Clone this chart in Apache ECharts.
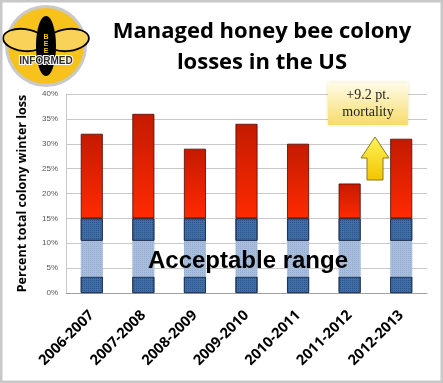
<!DOCTYPE html>
<html><head><meta charset="utf-8">
<script src="https://cdn.jsdelivr.net/npm/echarts@6/dist/echarts.min.js"></script>
<style>html,body{margin:0;padding:0;background:#fff}#c{width:443px;height:383px}</style>
</head><body><div id="c"></div>
<script>
const categories = ['2006-2007','2007-2008','2008-2009','2009-2010','2010-2011','2011-2012','2012-2013'];
const totalLoss = [32, 36, 29, 34, 30, 22, 31];
const acceptableTop = 15;
const bandLow = 3.3;
const bandHigh = 10.5;
const yTicks = [0, 5, 10, 15, 20, 25, 30, 35, 40];

const darkBlue = {
  color: '#3f6ea8', borderColor: '#1d3050', borderWidth: 0.8,
  decal: {symbol: 'rect', symbolSize: 1, dashArrayX: [1, 1], dashArrayY: [1, 1], color: 'rgba(20,40,80,0.4)'}
};
const lightBlue = {
  color: '#a8bedc', borderWidth: 0,
  decal: {symbol: 'rect', symbolSize: 1, dashArrayX: [1, 1], dashArrayY: [1, 1], color: 'rgba(110,140,190,0.35)'}
};

const chart = echarts.init(document.getElementById('c'));
chart.setOption({
  animation: false,
  grid: {left: 66, right: 16, top: 94, bottom: 90},
  xAxis: {
    type: 'category', data: categories,
    axisLine: {lineStyle: {color: '#a0a0a0'}},
    axisTick: {lineStyle: {color: '#a0a0a0'}, length: 5},
    axisLabel: {rotate: 45, color: '#000', fontFamily: 'Open Sans', fontWeight: 'bold', fontSize: 14.5, margin: 20}
  },
  yAxis: {
    type: 'value', min: yTicks[0], max: yTicks[yTicks.length - 1], interval: 5,
    axisLabel: {formatter: '{value}%', color: '#555', fontSize: 8, fontFamily: 'Liberation Sans'},
    splitLine: {lineStyle: {color: '#c8c8c8', width: 1}},
    axisLine: {show: true, lineStyle: {color: '#c8c8c8'}},
    name: 'Percent total colony winter loss', nameLocation: 'middle', nameGap: 37,
    nameTextStyle: {color: '#000', fontFamily: 'Open Sans', fontWeight: 'bold', fontSize: 12.5}
  },
  series: [
    {type: 'bar', stack: 'a', barWidth: 22, data: categories.map(() => bandLow), itemStyle: darkBlue},
    {type: 'bar', stack: 'a', data: categories.map(() => bandHigh - bandLow), itemStyle: lightBlue},
    {type: 'bar', stack: 'a', data: categories.map(() => acceptableTop - bandHigh), itemStyle: darkBlue},
    {type: 'bar', stack: 'a', data: totalLoss.map(v => v - acceptableTop),
      itemStyle: {borderColor: '#4a0a00', borderWidth: 0.8,
        color: new echarts.graphic.LinearGradient(0, 0, 0, 1, [{offset: 0, color: '#c41a00'}, {offset: 1, color: '#ff2a00'}])}}
  ],
  graphic: [
    {type: 'rect', shape: {x: 1, y: 1, width: 441, height: 381}, style: {fill: 'none', stroke: '#c8c8c8', lineWidth: 3}, z: 100},
    {type: 'text', style: {text: 'Managed honey bee colony\nlosses in the US', x: 262, y: 47, align: 'center', verticalAlign: 'middle',
      font: 'bold 22px "Open Sans"', lineHeight: 31, fill: '#000'}},
    {type: 'text', style: {text: 'Acceptable range', x: 248, y: 261, align: 'center', verticalAlign: 'middle',
      font: 'bold 24px "Liberation Sans"', fill: '#000', shadowColor: 'rgba(0,0,0,0.6)', shadowBlur: 3, shadowOffsetX: 2, shadowOffsetY: 2}, z: 50},
    {type: 'rect', shape: {x: 328, y: 83, width: 80, height: 42},
      style: {fill: new echarts.graphic.LinearGradient(0, 0, 0, 1, [{offset: 0, color: '#fffbe6'}, {offset: 1, color: '#f6dc6a'}]),
        shadowColor: 'rgba(200,170,40,0.35)', shadowBlur: 4}, z: 40},
    {type: 'text', style: {text: '+9.2 pt.\nmortality', x: 368, y: 104, align: 'center', verticalAlign: 'middle',
      font: '14px "Liberation Serif"', lineHeight: 17, fill: '#222'}, z: 41},
    {type: 'polygon', shape: {points: [[375, 137], [389, 158], [383, 158], [383, 180], [367, 180], [367, 158], [361, 158]]},
      style: {fill: new echarts.graphic.LinearGradient(0, 0, 0, 1, [{offset: 0, color: '#fff45a'}, {offset: 1, color: '#f2c400'}]),
        stroke: '#8a7a20', lineWidth: 1}, z: 40},
    // logo
    {type: 'circle', shape: {cx: 46, cy: 46, r: 41}, style: {fill: '#c9c9c9'}, z: 30},
    {type: 'circle', shape: {cx: 46, cy: 46, r: 38}, style: {fill: '#f7c21c'}, z: 31},
    {type: 'ellipse', shape: {cx: 24, cy: 40, rx: 21, ry: 11}, rotation: -0.12, originX: 24, originY: 40, style: {fill: '#f9d25a', stroke: '#000', lineWidth: 1.8}, z: 32},
    {type: 'ellipse', shape: {cx: 68, cy: 40, rx: 21, ry: 11}, rotation: 0.12, originX: 68, originY: 40, style: {fill: '#f9d25a', stroke: '#000', lineWidth: 1.8}, z: 32},
    {type: 'ellipse', shape: {cx: 46, cy: 46, rx: 10, ry: 30}, style: {fill: '#000'}, z: 33},
    {type: 'text', style: {text: 'B\nE\nE', x: 46, y: 44, align: 'center', verticalAlign: 'middle', font: 'bold 7px "Liberation Sans"', lineHeight: 7, fill: '#f7c21c'}, z: 34},
    {type: 'text', style: {text: 'INFORMED', x: 46, y: 61, align: 'center', verticalAlign: 'middle', font: 'bold 10px "Liberation Sans"', fill: '#2b2b2b', stroke: '#fff', lineWidth: 2}, z: 35}
  ]
});
</script></body></html>
